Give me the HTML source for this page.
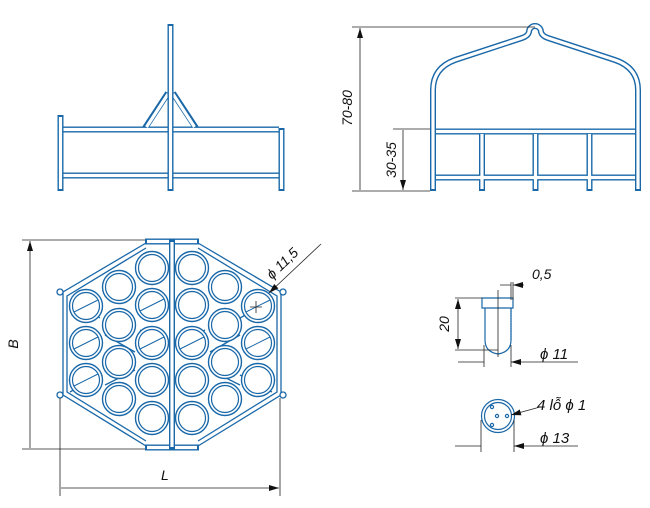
<!DOCTYPE html>
<html><head><meta charset="utf-8"><style>
html,body{margin:0;padding:0;background:#fff}
svg{display:block}
text{font-family:"Liberation Sans",sans-serif;font-style:italic;fill:#111}
</style></head><body>
<svg width="650" height="508" viewBox="0 0 650 508" xmlns="http://www.w3.org/2000/svg">
<defs>
<marker id="a" viewBox="0 0 10 6" refX="10" refY="3" markerWidth="10" markerHeight="6" orient="auto-start-reverse" markerUnits="userSpaceOnUse"><path d="M0,0 L10,3 L0,6 z" fill="#111"/></marker>
</defs>
<g fill="none" stroke-linecap="butt">
<g stroke="#1a68a8" stroke-width="6">
<path d="M63,129.5H279M63,175.5H279M168,93L145,128M173,93L196,128"/>
<path d="M436,131.5H635M436,177.5H635M482,131V191M535.5,131V191M589.5,131V191"/>
</g>
<g stroke="#fff" stroke-width="3.2">
<path d="M63,129.5H279M63,175.5H279M168,94L146.5,127M173,94L194.5,127"/>
<path d="M436,131.5H635M436,177.5H635M482,134V189M535.5,134V189M589.5,134V189"/>
</g>
<g stroke="#1a68a8" stroke-width="6">
<path d="M60.5,115V191M170.5,24V191M281.5,128V191"/>
<path d="M433,191V90Q433,68 455,60L522,38Q528,36 529,32A6,6 0 0 1 541,32Q542,36 548,38L615,60Q638,68 638,90V191"/>
<path d="M172,240V449"/>
<path d="M145,241.5H199M145,447.5H199"/>
</g>
<g stroke="#fff" stroke-width="3.2">
<path d="M60.5,117V189M170.5,26V189M281.5,130V189"/>
<path d="M433,189V90Q433,68 455,60L522,38Q528,36 529,32A6,6 0 0 1 541,32Q542,36 548,38L615,60Q638,68 638,90V189"/>
<path d="M172,242V447"/>
<path d="M147,241.5H169M175,241.5H197M147,447.5H169M175,447.5H197"/>
</g>
<g stroke="#1a68a8" stroke-width="1.3">
<path d="M146,243L63,292V395L146,446"/>
<path d="M146,248L67,296V392L146,441"/>
<path d="M198,243L281,292V395L198,446"/>
<path d="M198,248L277,296V392L198,441"/>
<circle cx="60" cy="292" r="3" fill="#fff"/><circle cx="60" cy="395" r="3" fill="#fff"/>
<circle cx="283" cy="292" r="3" fill="#fff"/><circle cx="283" cy="395" r="3" fill="#fff"/>
<path d="M72,300L100,318M70,392L100,375M105,335L135,352M105,385L135,370M140,330L166,345M140,390L166,375M205,330L178,345M205,390L178,375M240,335L210,352M240,385L210,370M272,300L240,318M272,392L240,375"/>
</g>
<g stroke="#1a68a8" stroke-width="1.4" fill="#fff">
<g id="cl">
<circle cx="86" cy="306" r="16.5"/><circle cx="86" cy="343" r="16.5"/><circle cx="86" cy="380" r="16.5"/>
<circle cx="119" cy="287" r="16.5"/><circle cx="119" cy="325" r="16.5"/><circle cx="119" cy="362" r="16.5"/><circle cx="119" cy="399" r="16.5"/>
<circle cx="152" cy="268" r="16.5"/><circle cx="152" cy="305" r="16.5"/><circle cx="152" cy="343" r="16.5"/><circle cx="152" cy="380" r="16.5"/><circle cx="152" cy="418" r="16.5"/>
</g>
<use href="#cl" transform="translate(344,0) scale(-1,1)"/>
</g>
<g stroke="#1a68a8" stroke-width="1.2" fill="none">
<g id="ci">
<circle cx="86" cy="306" r="13.5"/><circle cx="86" cy="343" r="13.5"/><circle cx="86" cy="380" r="13.5"/>
<circle cx="119" cy="287" r="13.5"/><circle cx="119" cy="325" r="13.5"/><circle cx="119" cy="362" r="13.5"/><circle cx="119" cy="399" r="13.5"/>
<circle cx="152" cy="268" r="13.5"/><circle cx="152" cy="305" r="13.5"/><circle cx="152" cy="343" r="13.5"/><circle cx="152" cy="380" r="13.5"/><circle cx="152" cy="418" r="13.5"/>
</g>
<use href="#ci" transform="translate(344,0) scale(-1,1)"/>
<path d="M74,312L98,300M74,349L98,337M74,386L98,374M140,311L164,299M140,349L164,337M180,349L204,337M246,312L270,300M246,349L270,337" stroke-width="1"/>
<path d="M482,298H513V308H482Z"/>
<path d="M485,308V340Q485,352 498,354Q511,352 511,340V308"/>
<path d="M511,308V340" stroke-dasharray="1.5 1"/>
<circle cx="498" cy="416" r="16.5"/><circle cx="498" cy="416" r="13.5"/>
<circle cx="492" cy="407" r="1.6"/><circle cx="497" cy="416" r="1.6"/><circle cx="507" cy="416" r="1.6"/><circle cx="492" cy="425" r="1.6"/>
</g>
</g>
<g stroke="#222" stroke-width="0.8" fill="none">
<path d="M352,27H535M352,191H430M393,129H430"/>
<path d="M360,28V190M403,130V190" marker-start="url(#a)" marker-end="url(#a)"/>
<path d="M22,240H145M22,449H145M60,398V496M280,398V496"/>
<path d="M30,241V448M61,488H279" marker-start="url(#a)" marker-end="url(#a)"/>
<path d="M321,244L269,293" marker-end="url(#a)"/>
<path d="M250,307H262M256,301V313"/>
<path d="M498,290V357"/>
<path d="M455,298H482M455,350H498M511,282V300M513,282V300M484,345V367M511,345V367M481,420V452M514,420V452"/>
<path d="M458,299V349" marker-start="url(#a)" marker-end="url(#a)"/>
<path d="M500,285H511M524,285H513" marker-end="url(#a)"/>
<path d="M458,362H484M578,362H511" marker-end="url(#a)"/>
<path d="M455,446H481M578,446H514" marker-end="url(#a)"/>
<path d="M540,407L511,415" marker-end="url(#a)"/>
</g>
<g font-size="14">
<text transform="translate(352,108) rotate(-90)" text-anchor="middle">70-80</text>
<text transform="translate(396,160) rotate(-90)" text-anchor="middle">30-35</text>
<text transform="translate(18,344) rotate(-90)" text-anchor="middle">B</text>
<text x="161" y="480">L</text>
<text transform="translate(272,280) rotate(-44)">ϕ 11,5</text>
<text transform="translate(449,324) rotate(-90)" text-anchor="middle">20</text>
<text x="532" y="279">0,5</text>
<text x="540" y="359" font-size="15">ϕ 11</text>
<text x="537" y="410" font-size="15">4 lỗ ϕ 1</text>
<text x="540" y="443" font-size="15">ϕ 13</text>
</g>
</svg>
</body></html>
